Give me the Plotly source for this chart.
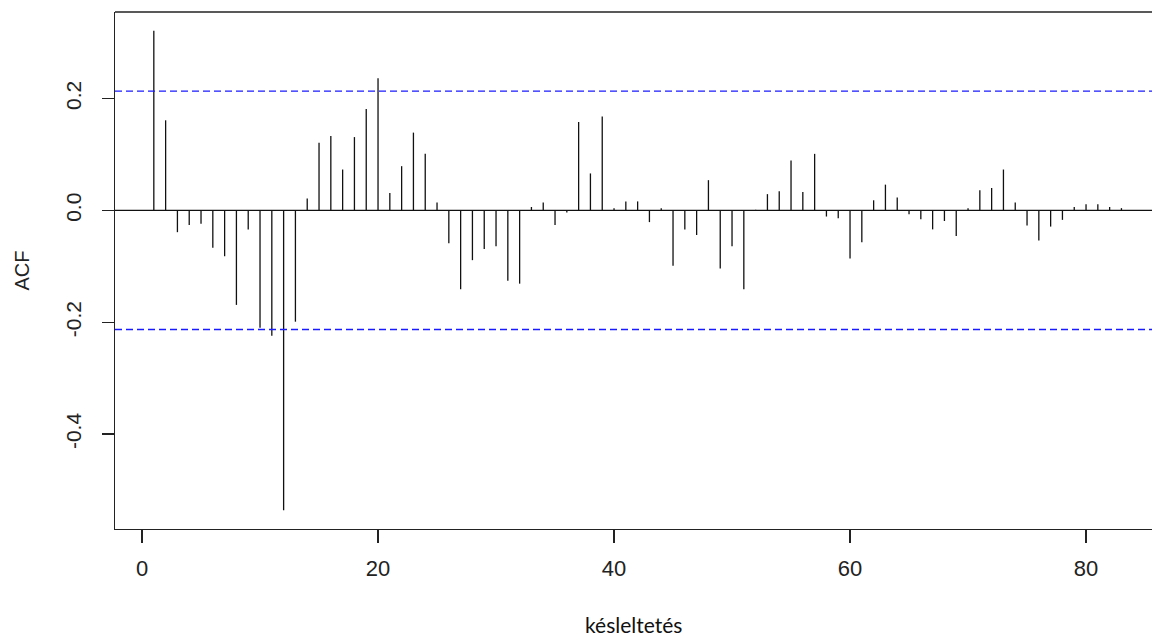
import plotly.graph_objects as go

lags = list(range(1, 84))
acf_values = [
    0.321, 0.161, -0.039, -0.026, -0.024, -0.067, -0.082, -0.169, -0.034, -0.210,
    -0.224, -0.536, -0.199, 0.021, 0.121, 0.133, 0.073, 0.131, 0.181, 0.236,
    0.031, 0.079, 0.139, 0.101, 0.014, -0.059, -0.141, -0.089, -0.069, -0.064,
    -0.126, -0.131, 0.006, 0.014, -0.026, -0.004, 0.158, 0.066, 0.168, 0.004,
    0.016, 0.016, -0.021, 0.004, -0.099, -0.034, -0.044, 0.054, -0.104, -0.064,
    -0.141, 0.001, 0.029, 0.034, 0.089, 0.033, 0.101, -0.011, -0.014, -0.086,
    -0.057, 0.018, 0.046, 0.023, -0.007, -0.016, -0.034, -0.019, -0.046, 0.004,
    0.036, 0.040, 0.073, 0.014, -0.027, -0.054, -0.029, -0.017, 0.006, 0.011,
    0.011, 0.006, 0.004,
]
conf_bound = 0.213
x_tickvals = [0, 20, 40, 60, 80]
y_tickvals = [0.2, 0.0, -0.2, -0.4]
y_ticktext = ["0.2", "0.0", "-0.2", "-0.4"]
x_title = "késleltetés"
y_title = "ACF"

xs, ys = [], []
for k, v in zip(lags, acf_values):
    xs += [k, k, None]
    ys += [0, v, None]

x_range = [-2.29, 85.59]
y_range = [-0.5696, 0.3546]

fig = go.Figure()
fig.add_trace(go.Scatter(x=xs, y=ys, mode="lines",
                         line=dict(color="#111111", width=1.3),
                         hoverinfo="skip", showlegend=False))

fig.add_hline(y=0, line=dict(color="#111111", width=1.3))
for b in (conf_bound, -conf_bound):
    fig.add_hline(y=b, line=dict(color="#1a1aff", width=1.3, dash="7px,4px"))

# frame: top line (left & bottom via axis lines); right border lies outside view
fig.add_shape(type="line", xref="paper", yref="paper", x0=0, x1=1, y0=1, y1=1,
              line=dict(color="#222222", width=1.3))

fig.update_xaxes(range=x_range, showgrid=False, zeroline=False,
                 showline=True, linecolor="#222222", linewidth=1.3,
                 ticks="outside", ticklen=13, tickwidth=1.3, tickcolor="#222222",
                 tickvals=x_tickvals,
                 tickfont=dict(family="Liberation Sans, Arial", size=22, color="#222222"),
                 ticklabelstandoff=6)
fig.update_yaxes(range=y_range, showgrid=False, zeroline=False,
                 showline=True, linecolor="#222222", linewidth=1.3,
                 ticks="outside", ticklen=12, tickwidth=1.3, tickcolor="#222222",
                 tickvals=y_tickvals, ticktext=y_ticktext, tickangle=-90,
                 tickfont=dict(family="Liberation Sans, Arial", size=21, color="#222222"),
                 ticklabelstandoff=12)

fig.add_annotation(text=x_title, xref="paper", yref="paper", x=0.5, y=0,
                   xanchor="center", yanchor="middle", yshift=-95, showarrow=False,
                   font=dict(family="Lato, Open Sans", size=21, color="#111111"))
fig.add_annotation(text=y_title, xref="paper", yref="paper", x=0, y=0.5,
                   xanchor="center", yanchor="middle", xshift=-94, textangle=-90,
                   showarrow=False,
                   font=dict(family="Liberation Sans, Arial", size=20, color="#222222"))

fig.update_layout(width=1152, height=637, plot_bgcolor="white", paper_bgcolor="white",
                  margin=dict(l=115, r=0, t=12, b=108))

fig.write_html("out.html", config={"displayModeBar": False, "staticPlot": True},
               post_script="document.body.style.margin='0';document.body.style.overflow='hidden';")
